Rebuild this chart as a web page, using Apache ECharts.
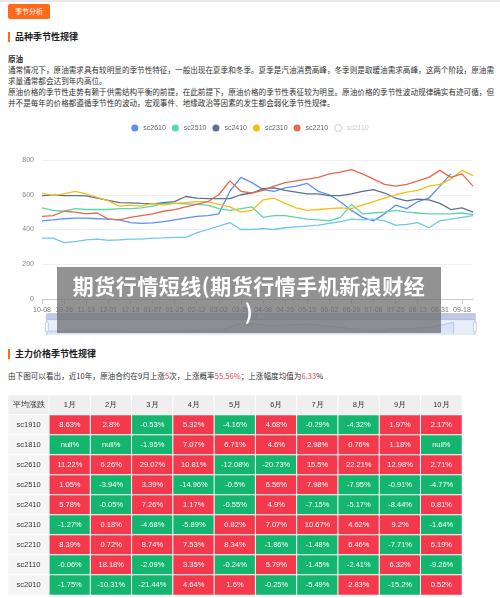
<!DOCTYPE html>
<html><head><meta charset="utf-8">
<script src="https://cdn.jsdelivr.net/npm/echarts@6/dist/echarts.min.js"></script>
<style>
body{margin:0;width:500px;height:598px;overflow:hidden;background:#fff;font-family:"Noto Sans CJK SC","Noto Sans",sans-serif;position:relative;border-top:2px solid #e8e8e8;box-sizing:border-box}
.btn{position:absolute;left:8px;top:2px;width:42px;height:15px;background:#ff6a1a;color:#fff;font-size:7px;line-height:15px;text-align:center;border-radius:2px}
.h{position:absolute;left:8px;font-size:9px;font-weight:bold;color:#222;border-left:2px solid #ff6a1a;padding-left:5px;line-height:10px}
.p{position:absolute;left:8px;width:488px;font-size:7.6px;line-height:11px;color:#333}
.wm{position:absolute;left:57px;top:265px;width:384px;height:66px;background:rgba(110,110,110,0.75);color:#fff;font-weight:bold;font-size:21px;line-height:26px;text-align:center;z-index:10;padding-top:5px;box-sizing:border-box;letter-spacing:0.5px}
</style></head><body>
<div class="btn">季节分析</div>
<div class="h" style="top:30px">品种季节性规律</div>
<div class="p" style="top:51px"><b>原油</b><br>通常情况下，原油需求具有较明显的季节性特征，一般出现在夏季和冬季。夏季是汽油消费高峰，冬季则是取暖油需求高峰，这两个阶段，原油需求量通常都会达到年内高位。<br>原油价格的季节性走势有赖于供需结构平衡的前提，在此前提下，原油价格的季节性表征较为明显。原油价格的季节性波动规律确实有迹可循，但并不是每年的价格都遵循季节性的波动，宏观事件、地缘政治等因素的发生都会弱化季节性规律。</div>
<div id="c1" style="position:absolute;left:0;top:115px;width:500px;height:218px"></div>
<div class="wm">期货行情短线(期货行情手机新浪财经<br>)</div>
<div class="h" style="top:347px">主力价格季节性规律</div>
<div class="p" style="top:368px">由下图可以看出，近10年，原油合约在9月上涨<span style="color:#f5394d">5</span>次，上涨概率<span style="color:#f5394d">55.56%</span>；上涨幅度均值为<span style="color:#f5394d">6.33</span>%</div>
<div id="c2" style="position:absolute;left:0;top:390px;width:500px;height:208px"></div>
<script>
const dates=['10-08','10-17','10-26','11-04','11-13','11-22','12-01','12-10','12-19','12-28','01-07','01-16','01-25','02-03','02-12','02-21','03-02','03-11','03-20','03-29','04-08','04-17','04-26','05-05','05-15','05-24','06-02','06-11','06-20','06-29','07-08','07-17','07-26','08-04','08-13','08-22','08-31','09-09','09-18','09-27'];
const sc2610=[450,455,462,465,465,462,460,455,440,435,438,445,455,465,475,480,490,620,700,670,630,620,640,650,665,620,600,560,510,470,450,490,540,520,560,580,650,720,null,null];
const sc2510=[525,510,505,520,515,515,515,520,520,525,535,550,550,548,545,540,520,510,520,530,470,480,480,470,460,455,450,470,545,490,495,500,510,500,495,490,490,490,495,485];
const sc2410=[595,598,595,595,593,580,568,555,553,550,548,555,560,590,580,578,578,578,600,610,635,640,625,615,605,605,595,595,605,620,630,610,580,565,575,570,550,515,525,500];
const sc2310=[610,595,605,620,605,585,565,535,540,535,550,540,550,555,560,560,545,530,500,510,570,580,550,525,510,515,520,525,520,540,560,580,600,615,625,650,660,690,740,710];
const sc2210=[475,480,505,500,490,495,460,455,470,480,490,505,515,530,545,560,600,680,620,610,625,650,670,680,690,700,720,730,745,720,690,660,650,660,680,700,740,700,720,650];
const sc2110=[350,350,325,330,340,345,338,340,345,345,350,352,355,355,380,400,420,440,400,400,405,400,410,415,420,425,435,445,460,455,460,450,425,430,440,410,450,460,470,480];
const names=['sc2610','sc2510','sc2410','sc2310','sc2210','sc2110'];
const colors=['#5b8ff9','#5ad8a6','#5d7092','#f6bd16','#e8684a','#6dc8ec'];
const yTicks=[0,200,400,600,800];
const c1=echarts.init(document.getElementById('c1'));
c1.setOption({
 animation:false,color:colors,
 legend:{top:2,itemWidth:7,itemHeight:7,itemGap:6,icon:'circle',textStyle:{fontSize:7,color:'#666'},
  data:names.map((n,i)=>i===5?{name:n,itemStyle:{color:'#fff',borderColor:'#ccc',borderWidth:1},textStyle:{color:'#ccc'}}:{name:n})},
 grid:{left:42,right:27,top:43,height:139},
 xAxis:{type:'category',data:dates,boundaryGap:false,axisLabel:{fontSize:7,color:'#777',interval:1},axisLine:{lineStyle:{color:'#ccc'}},axisTick:{interval:1,lineStyle:{color:'#ccc'}}},
 yAxis:{type:'value',min:yTicks[0],max:yTicks[4],interval:200,axisLabel:{fontSize:7,color:'#888'},splitLine:{lineStyle:{color:'#eef0f4'}}},
 dataZoom:[{type:'slider',start:0,end:100,left:43,right:27,top:196,height:15,showDetail:false,borderColor:'#dde3f0',fillerColor:'rgba(180,200,240,0.3)',handleSize:'100%',dataBackground:{lineStyle:{color:'#aab'},areaStyle:{color:'#ccd'}}}],
 series:[sc2610,sc2510,sc2410,sc2310,sc2210,sc2110].map((d,i)=>({name:names[i],type:'line',data:d,symbol:'none',lineStyle:{width:1.3},connectNulls:false}))
});
const months=['1月','2月','3月','4月','5月','6月','7月','8月','9月','10月'];
const contracts=['sc1910','sc1810','sc2610','sc2510','sc2410','sc2310','sc2210','sc2110','sc2010'];
const r1910=[8.63,2.8,-0.53,5.32,-4.16,4.68,-0.29,-4.32,1.97,2.17];
const r1810=[null,null,-1.95,7.07,6.71,4.6,2.98,0.76,1.18,null];
const r2610=[11.22,6.26,29.07,10.81,-12.08,-20.73,15.5,22.21,12.98,2.71];
const r2510=[1.05,-3.94,3.39,-14.96,-0.5,6.56,7.98,-7.95,-0.91,-4.77];
const r2410=[5.78,-0.05,7.26,1.17,-0.55,4.9,-7.15,-5.17,-8.44,0.81];
const r2310=[-1.27,0.18,-4.68,-5.89,0.82,7.07,10.67,4.62,9.2,-1.64];
const r2210=[8.39,0.72,8.74,7.53,8.34,-1.86,-1.48,6.46,-7.71,6.19];
const r2110=[-0.06,18.18,-2.09,3.35,-0.24,5.79,-1.45,-2.41,6.32,-9.26];
const r2010=[-1.75,-10.31,-21.44,4.64,1.6,-0.25,-5.49,2.83,-15.2,0.52];
const rows=[r1910,r1810,r2610,r2510,r2410,r2310,r2210,r2110,r2010];
const xc=['平均涨跌',...months], yc=['平均涨跌',...contracts];
const cells=[];
xc.forEach((x,xi)=>yc.forEach((y,yi)=>{
 let label,color,tc='#fff';
 if(yi===0){label=x;color='#efefef';tc='#333';}
 else if(xi===0){label=y;color='#f5f5f5';tc='#333';}
 else{const v=rows[yi-1][xi-1];label=(v===null?'null':v)+'%';color=(v!==null&&v>0)?'#f5394d':'#13b56f';}
 cells.push({value:[xi,yi,1],itemStyle:{color:color},label:{color:tc},name:label});
}));
const c2=echarts.init(document.getElementById('c2'));
c2.setOption({animation:false,
 grid:{left:8,right:38,top:3,height:200},
 xAxis:{type:'category',data:xc,show:false},
 yAxis:{type:'category',data:yc,inverse:true,show:false},
 series:[{type:'heatmap',data:cells,itemStyle:{borderColor:'#fff',borderWidth:1},
  label:{show:true,fontSize:7.5,formatter:p=>p.name}}]
});
</script></body></html>
